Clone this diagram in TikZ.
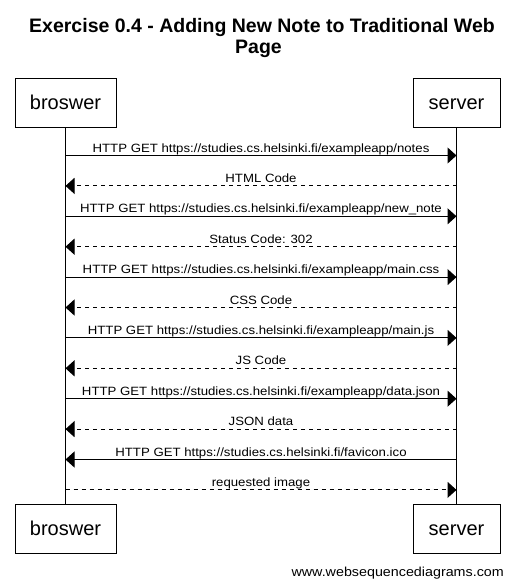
\documentclass[tikz,border=0pt]{standalone}
\usepackage{fontspec}
\setmainfont{Liberation Sans}
\newfontfamily\msgfont[FakeStretch=1.1]{Liberation Sans}
\usetikzlibrary{arrows.meta}
\begin{document}
\begin{tikzpicture}[x=1pt,y=-1pt,
  pbox/.style={draw,line width=1pt,minimum width=101pt,minimum height=49pt,inner sep=0pt,text height=14.5pt,text depth=0pt,font=\fontsize{20}{24}\selectfont},
  sbox/.style={pbox,minimum width=87pt},
  life/.style={line width=1pt},
  msg/.style={line width=1pt,-{Triangle[length=9pt,width=16pt]}},
  ret/.style={msg,dash pattern=on 4pt off 4pt},
  lbl/.style={midway,anchor=base,yshift=3.5pt,inner sep=0pt,font=\msgfont\fontsize{12}{14}\selectfont},
  ttl/.style={anchor=base,inner sep=0pt,font=\bfseries\fontsize{19.5}{23}\selectfont}
]
\useasboundingbox (0,0) rectangle (514,587);
\node[ttl] (t1) at (262,32) {Exercise 0.4 - Adding New Note to Traditional Web};
\node[ttl] (t2) at (258.5,53) {Page};

\node[pbox] (bt) at (65.5,102.5) {broswer};
\node[sbox] (st) at (456.5,102.5) {server};
\node[pbox] (bb) at (65.5,528.5) {broswer};
\node[sbox] (sb) at (456.5,528.5) {server};
\draw[life] (bt.south) -- (bb.north);
\draw[life] (st.south) -- (sb.north);

\foreach \i in {1,...,12}{
  \pgfmathsetmacro{\yy}{155.5+30.4*(\i-1)}
  \coordinate (b\i) at (65.5,\yy);
  \coordinate (s\i) at (456.5,\yy);
}
\draw[msg] (b1) -- node[lbl]{HTTP GET https://studies.cs.helsinki.fi/exampleapp/notes} (s1);
\draw[ret] (s2) -- node[lbl]{HTML Code} (b2);
\draw[msg] (b3) -- node[lbl]{HTTP GET https://studies.cs.helsinki.fi/exampleapp/new\_note} (s3);
\draw[ret] (s4) -- node[lbl]{Status Code: 302} (b4);
\draw[msg] (b5) -- node[lbl]{HTTP GET https://studies.cs.helsinki.fi/exampleapp/main.css} (s5);
\draw[ret] (s6) -- node[lbl]{CSS Code} (b6);
\draw[msg] (b7) -- node[lbl]{HTTP GET https://studies.cs.helsinki.fi/exampleapp/main.js} (s7);
\draw[ret] (s8) -- node[lbl]{JS Code} (b8);
\draw[msg] (b9) -- node[lbl]{HTTP GET https://studies.cs.helsinki.fi/exampleapp/data.json} (s9);
\draw[ret] (s10) -- node[lbl]{JSON data} (b10);
\draw[msg] (s11) -- node[lbl]{HTTP GET https://studies.cs.helsinki.fi/favicon.ico} (b11);
\draw[ret] (b12) -- node[lbl]{requested image} (s12);

\node[anchor=base east,inner sep=0pt,font=\msgfont\fontsize{13}{15}\selectfont] (ft) at (504,576) {www.websequencediagrams.com};
\end{tikzpicture}
\end{document}
